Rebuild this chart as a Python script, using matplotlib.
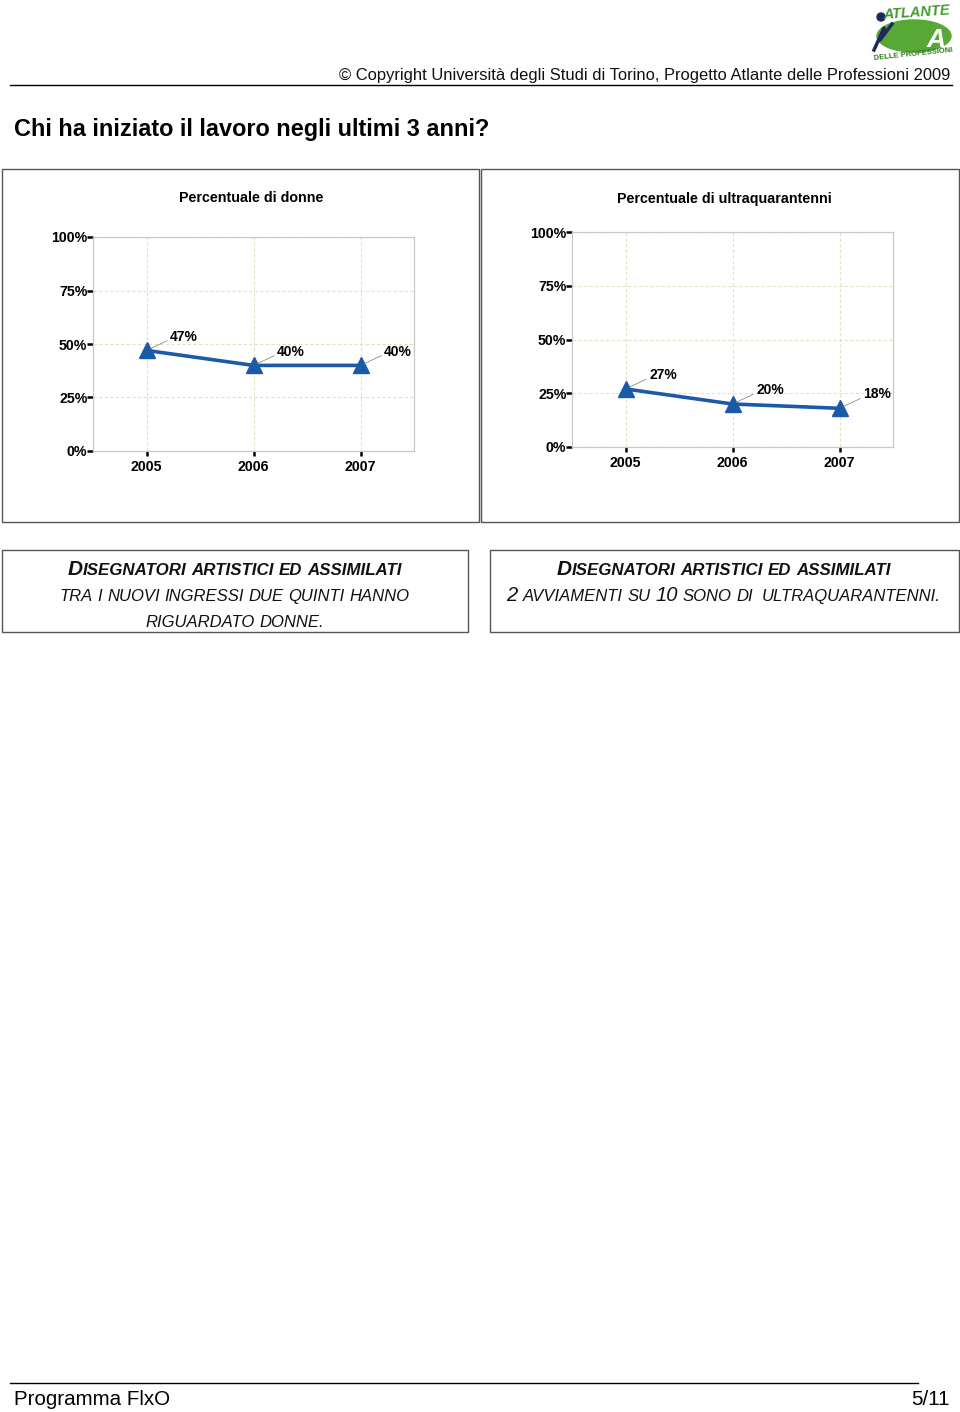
import numpy as np
import matplotlib.pyplot as plt
from matplotlib.patches import Rectangle, Ellipse
from matplotlib.lines import Line2D
from matplotlib.font_manager import FontProperties

# === DATI ===
anni = [2005, 2006, 2007]
donne = [47, 40, 40]
ultra40 = [27, 20, 18]
y_ticks = [0, 25, 50, 75, 100]
y_labels = ['0%', '25%', '50%', '75%', '100%']
titoli = ['Percentuale di donne', 'Percentuale di ultraquarantenni']
box_sx = ['Disegnatori artistici ed assimilati',
          'tra i nuovi ingressi due quinti hanno',
          'riguardato donne.']
box_dx = ['Disegnatori artistici ed assimilati',
          '2 avviamenti su 10 sono di  ultraquarantenni.']

W, H = 960, 1412
BLU = '#1a5aa8'
plt.rcParams['font.family'] = ['Liberation Sans', 'DejaVu Sans']

fig = plt.figure(figsize=(W / 100, H / 100), dpi=100)


# coordinate in pixel -> coordinate figura
def fx(x):
    return x / W


def fy(y):
    return 1 - y / H


def riquadro(x0, y0, x1, y1, col='#555555', lw=1.0):
    fig.add_artist(Rectangle((fx(x0), fy(y1)), (x1 - x0) / W, (y1 - y0) / H,
                             transform=fig.transFigure, fill=False,
                             edgecolor=col, lw=lw))


def linea(x0, x1, y, lw=1.0):
    fig.add_artist(Line2D([fx(x0), fx(x1)], [fy(y), fy(y)],
                          transform=fig.transFigure, color='black', lw=lw))


# === INTESTAZIONE ===
fig.text(fx(950), fy(80), '\u00a9 Copyright Universit\u00e0 degli Studi di Torino, '
         'Progetto Atlante delle Professioni 2009',
         ha='right', va='baseline', fontsize=11.9, color='#111111')
linea(10, 952, 85)
fig.text(fx(14), fy(136), 'Chi ha iniziato il lavoro negli ultimi 3 anni?',
         ha='left', va='baseline', fontsize=16.9, fontweight='bold')

# logo (semplificato)
fig.add_artist(Ellipse((fx(914), fy(36)), 74 / W, 32 / H,
                       transform=fig.transFigure, color='#58a835'))
fig.text(fx(936), fy(47), 'A', ha='center', va='baseline', fontsize=19,
         fontweight='bold', style='italic', color='white')
fig.add_artist(Ellipse((fx(881), fy(17)), 8 / W, 8 / H,
                       transform=fig.transFigure, color='#1d2a5c'))
fig.add_artist(Line2D([fx(874), fx(884), fx(880), fx(892)],
                      [fy(50), fy(28), fy(40), fy(24)],
                      transform=fig.transFigure, color='#1d2a5c', lw=2.5))
fig.text(fx(916), fy(19), 'ATLANTE', ha='center', va='baseline', fontsize=10.5,
         fontweight='bold', style='italic', color='#3f9a2e', rotation=4)
fig.text(fx(913), fy(60), 'DELLE PROFESSIONI', ha='center', va='baseline',
         fontsize=5.5, fontweight='bold', color='#2f7a26', rotation=6)


# === GRAFICI ===
def grafico(l, t, r, b, valori, titolo, tx, ty):
    ax = fig.add_axes([fx(l), fy(b), (r - l) / W, (b - t) / H])
    ax.plot(anni, valori, color=BLU, lw=2.6, marker='^', ms=12,
            zorder=3, clip_on=False)
    ax.set_xlim(2004.5, 2007.5)
    ax.set_ylim(0, 100)
    ax.set_xticks(anni)
    ax.set_xticklabels([str(a) for a in anni], fontweight='bold')
    ax.set_yticks(y_ticks)
    ax.set_yticklabels(y_labels, fontweight='bold')
    ax.grid(True, ls=(0, (3, 2)), color='#dde5c5', lw=0.8)
    for s in ax.spines.values():
        s.set_color('#c8c8c8')
        s.set_linewidth(0.9)
    ax.tick_params(axis='y', length=4, width=1.8, color='black', pad=0,
                   labelsize=10.2)
    ax.tick_params(axis='x', length=3.5, width=1.8, color='black', pad=3,
                   labelsize=10.2)
    for a, v in zip(anni, valori):
        ax.annotate('%d%%' % v, xy=(a, v), xytext=(17, 10),
                    textcoords='offset points', ha='left', va='center',
                    fontsize=10, fontweight='bold',
                    arrowprops=dict(arrowstyle='-', color='#777777', lw=0.5,
                                    relpos=(0, 0.3), shrinkA=0, shrinkB=3))
    fig.text(fx(tx), fy(ty), titolo, ha='center', va='center',
             fontsize=10.3, fontweight='bold')
    return ax


riquadro(2, 169, 479, 522)
riquadro(481, 169, 959, 522)
grafico(93, 237, 414, 451, donne, titoli[0], 251, 198)
grafico(572, 232, 893, 447, ultra40, titoli[1], 724, 199)

# === RIQUADRI DI TESTO (maiuscoletto) ===
renderer = fig.canvas.get_renderer()


def maiuscoletto(cx, yb, testo, grande, piccolo, peso='normal'):
    # divide in parole, poi in tratti di lettere grandi / piccole
    parole = testo.split(' ')
    pezzi = []
    larg_tot = 0
    spazio = 0.24 * piccolo * 100 / 72
    for i, p in enumerate(parole):
        tratti = []
        for c in p:
            if c.isupper() or c.isdigit():
                size = grande
            elif c.islower() or not tratti:
                size = piccolo
            else:
                size = tratti[-1][1]   # punteggiatura: come il tratto prima
            if tratti and tratti[-1][1] == size:
                tratti[-1][0] += c.upper()
            else:
                tratti.append([c.upper(), size])
        for s, size in tratti:
            fp = FontProperties(family='Liberation Sans', style='italic',
                                weight=peso, size=size)
            w = renderer.get_text_width_height_descent(s, fp, ismath=False)[0]
            pezzi.append((larg_tot, s, fp))
            larg_tot += w + 0.8
        if i < len(parole) - 1:
            larg_tot += spazio
    x0 = cx - larg_tot / 2
    for off, s, fp in pezzi:
        fig.text(fx(x0 + off), fy(yb), s, ha='left', va='baseline',
                 fontproperties=fp, color='#111111')


riquadro(2, 550, 468, 632)
riquadro(490, 550, 959, 632)
maiuscoletto(235, 575, box_sx[0], 15, 12.2, 'bold')
maiuscoletto(235, 601, box_sx[1], 14.5, 12)
maiuscoletto(235, 627, box_sx[2], 14.5, 12)
maiuscoletto(724, 575, box_dx[0], 15, 12.2, 'bold')
maiuscoletto(724, 601, box_dx[1], 14.5, 12)

# === PIE DI PAGINA ===
linea(10, 918, 1383)
fig.text(fx(14), fy(1405), 'Programma FlxO', ha='left', va='baseline',
         fontsize=14.8)
fig.text(fx(950), fy(1405), '5/11', ha='right', va='baseline', fontsize=14.8)

fig.savefig('out.png', dpi=100)
